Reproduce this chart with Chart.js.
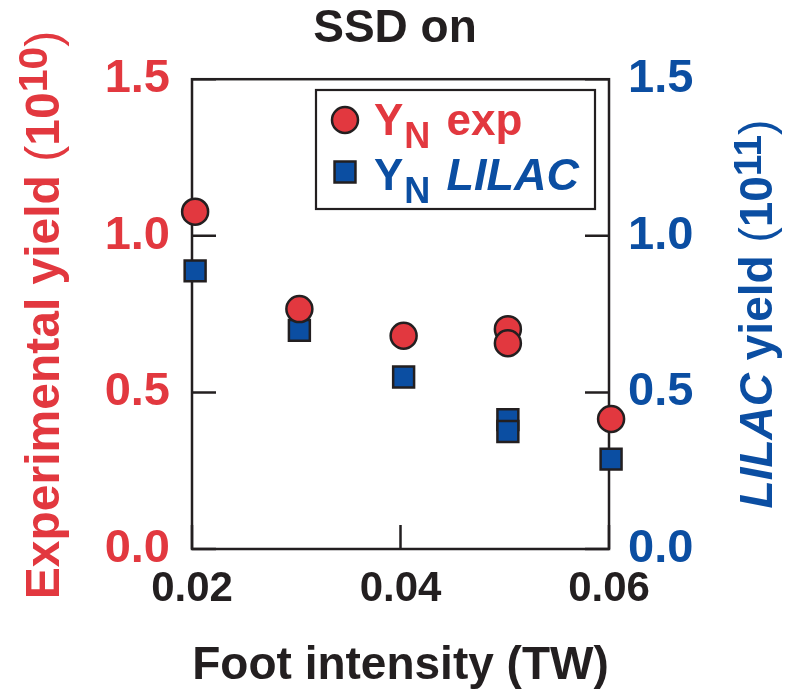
<!DOCTYPE html>
<html>
<head>
<meta charset="utf-8">
<script src="https://cdn.jsdelivr.net/npm/chart.js@4/dist/chart.umd.min.js"></script>
<style>
  body { margin: 0; background: #fff; }
  #wrap { width: 790px; height: 696px; }
</style>
</head>
<body>
<div id="wrap"><canvas id="chart" width="790" height="696"></canvas></div>
<script>
// values
const expX = [0.0203, 0.0303, 0.0403, 0.0503, 0.0503, 0.0602];
const expY = [1.077, 0.766, 0.681, 0.702, 0.657, 0.415];          // 10^10
const lilacX = [0.0203, 0.0303, 0.0403, 0.0503, 0.0503, 0.0602];
const lilacY = [0.888, 0.698, 0.549, 0.413, 0.375, 0.287];        // 10^11
const xTickValues = [0.02, 0.04, 0.06];
const yTickValues = [0, 0.5, 1.0, 1.5];

const RED = '#e2383f';
const BLUE = '#0b4ea2';
const INK = '#231f20';
const FAMILY = "'Liberation Sans', Arial, Helvetica, sans-serif";
const TICK = 24;

const bold = (s) => `bold ${s}px ${FAMILY}`;
const boldItalic = (s) => `italic bold ${s}px ${FAMILY}`;
const regular = (s) => `${s}px ${FAMILY}`;

// draws a run of text pieces, each with its own font, gap and baseline shift
function drawRich(ctx, parts, x, y, angle, align, color) {
    ctx.save();
    ctx.translate(x, y);
    ctx.rotate(angle);
    ctx.textBaseline = 'alphabetic';
    ctx.textAlign = 'left';
    ctx.fillStyle = color;
    let total = 0;
    parts.forEach(p => {
        ctx.font = p.font;
        p.w = ctx.measureText(p.text).width;
        total += p.w + (p.dx || 0);
    });
    let cx = align === 'center' ? -total / 2 : 0;
    parts.forEach(p => {
        ctx.font = p.font;
        cx += p.dx || 0;
        ctx.fillText(p.text, cx, p.dy || 0);
        cx += p.w;
    });
    ctx.restore();
}

const framePlugin = {
    id: 'frame',
    beforeDatasetsDraw(chart) {
        const { ctx, chartArea: a, scales } = chart;
        ctx.save();
        ctx.strokeStyle = INK;
        ctx.lineWidth = 2.5;
        ctx.strokeRect(a.left, a.top, a.right - a.left, a.bottom - a.top);
        ctx.beginPath();
        yTickValues.forEach(v => {
            const p1 = scales.y.getPixelForValue(v);
            const p2 = scales.y2.getPixelForValue(v);
            ctx.moveTo(a.left, p1);
            ctx.lineTo(a.left + TICK, p1);
            ctx.moveTo(a.right, p2);
            ctx.lineTo(a.right - TICK, p2);
        });
        xTickValues.forEach(v => {
            const px = scales.x.getPixelForValue(v);
            ctx.moveTo(px, a.bottom);
            ctx.lineTo(px, a.bottom - TICK);
        });
        ctx.stroke();
        ctx.restore();
    },
    afterDraw(chart) {
        const { ctx } = chart;

        // axis titles
        drawRich(ctx, [
            { text: 'Experimental yield ', font: bold(48) },
            { text: '(', font: regular(48) },
            { text: '10', font: bold(48) },
            { text: '10', font: bold(41), dy: -12 },
            { text: ')', font: regular(48) }
        ], 59, 315, -Math.PI / 2, 'center', RED);

        drawRich(ctx, [
            { text: 'LILAC', font: boldItalic(46) },
            { text: ' yield ', font: bold(46) },
            { text: '(', font: regular(46) },
            { text: '10', font: bold(46) },
            { text: '11', font: bold(39), dy: -11 },
            { text: ')', font: regular(46) }
        ], 772, 314, -Math.PI / 2, 'center', BLUE);

        // legend
        ctx.save();
        ctx.strokeStyle = INK;
        ctx.lineWidth = 2.2;
        ctx.strokeRect(316, 90, 279, 119);
        ctx.fillStyle = RED;
        ctx.lineWidth = 2.5;
        Chart.helpers.drawPoint(ctx, { pointStyle: 'circle', radius: 13, rotation: 0, borderWidth: 2.5 }, 345, 120);
        ctx.fillStyle = BLUE;
        Chart.helpers.drawPoint(ctx, { pointStyle: 'rect', radius: 14.8, rotation: 0, borderWidth: 2.5 }, 345, 172);
        ctx.restore();

        drawRich(ctx, [
            { text: 'Y', font: bold(44) },
            { text: 'N', font: bold(36), dy: 13, dx: 1 },
            { text: ' exp', font: bold(44), dx: 4 }
        ], 374, 135, 0, 'left', RED);
        drawRich(ctx, [
            { text: 'Y', font: bold(44) },
            { text: 'N', font: bold(36), dy: 13, dx: 1 },
            { text: ' ', font: bold(44), dx: 4 },
            { text: 'LILAC', font: boldItalic(45) }
        ], 374, 190, 0, 'left', BLUE);
    }
};

const toPoints = (xs, ys) => xs.map((x, i) => ({ x: x, y: ys[i] }));

new Chart(document.getElementById('chart'), {
    type: 'scatter',
    data: {
        datasets: [{
            label: 'YN exp',
            data: toPoints(expX, expY),
            yAxisID: 'y',
            clip: false,
            pointStyle: 'circle',
            pointRadius: 13,
            pointHoverRadius: 13,
            backgroundColor: RED,
            borderColor: INK,
            borderWidth: 2.5
        }, {
            label: 'YN LILAC',
            data: toPoints(lilacX, lilacY),
            yAxisID: 'y2',
            clip: false,
            pointStyle: 'rect',
            pointRadius: 14.8,
            pointHoverRadius: 14.8,
            backgroundColor: BLUE,
            borderColor: INK,
            borderWidth: 2.5
        }]
    },
    options: {
        responsive: false,
        animation: false,
        events: [],
        layout: { padding: 0 },
        plugins: {
            legend: { display: false },
            tooltip: { enabled: false },
            title: {
                display: true,
                text: 'SSD on',
                color: INK,
                font: { family: FAMILY, size: 46, weight: 'bold', lineHeight: 1.2 },
                padding: { top: 2, bottom: 22 }
            }
        },
        scales: {
            x: {
                type: 'linear',
                min: 0.02,
                max: 0.06,
                afterBuildTicks: s => { s.ticks = xTickValues.map(v => ({ value: v })); },
                afterFit: s => { s.height = 147; },
                grid: { display: false, drawTicks: false },
                border: { display: false },
                ticks: {
                    color: INK,
                    padding: 15,
                    maxRotation: 0,
                    autoSkip: false,
                    font: { family: FAMILY, size: 42, weight: 'bold' },
                    callback: v => v.toFixed(2)
                },
                title: {
                    display: true,
                    text: 'Foot intensity (TW)',
                    color: INK,
                    font: { family: FAMILY, size: 46, weight: 'bold', lineHeight: 1.2 },
                    padding: { top: 0, bottom: 2 }
                }
            },
            y: {
                type: 'linear',
                position: 'left',
                min: 0,
                max: 1.5,
                afterBuildTicks: s => { s.ticks = yTickValues.map(v => ({ value: v })); },
                afterFit: s => { s.width = 192; },
                grid: { display: false, drawTicks: false },
                border: { display: false },
                ticks: {
                    color: RED,
                    padding: 22,
                    font: { family: FAMILY, size: 47, weight: 'bold' },
                    callback: v => v.toFixed(1)
                }
            },
            y2: {
                type: 'linear',
                position: 'right',
                min: 0,
                max: 1.5,
                afterBuildTicks: s => { s.ticks = yTickValues.map(v => ({ value: v })); },
                afterFit: s => { s.width = 181; },
                grid: { display: false, drawTicks: false },
                border: { display: false },
                ticks: {
                    color: BLUE,
                    padding: 19,
                    font: { family: FAMILY, size: 47, weight: 'bold' },
                    callback: v => v.toFixed(1)
                }
            }
        }
    },
    plugins: [framePlugin]
});
</script>
</body>
</html>
